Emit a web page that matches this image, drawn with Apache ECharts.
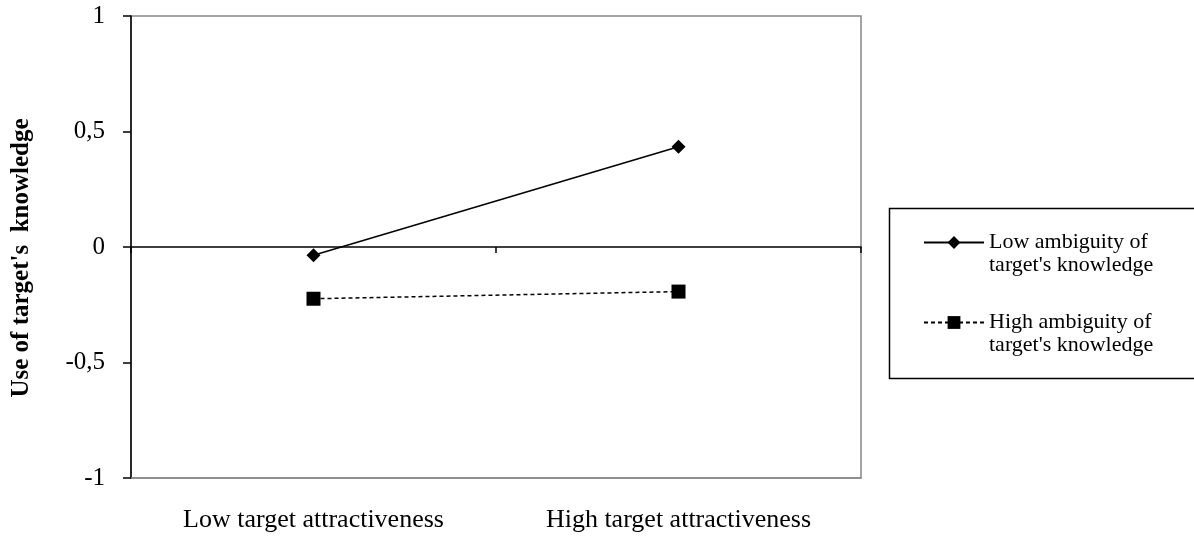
<!DOCTYPE html>
<html>
<head>
<meta charset="utf-8">
<script src="https://cdn.jsdelivr.net/npm/echarts@6/dist/echarts.min.js"></script>
<style>html,body{margin:0;padding:0;background:#fff}#c{width:1194px;height:538px}</style>
</head>
<body>
<div id="c"></div>
<script>
const categories = ['Low target attractiveness', 'High target attractiveness'];
const seriesNames = ["Low ambiguity of\ntarget's knowledge", "High ambiguity of\ntarget's knowledge"];
const lowAmbiguity = [-0.036, 0.434];
const highAmbiguity = [-0.224, -0.193];
const yTicks = { min: -1, max: 1, interval: 0.5 };

const FONT = '"Liberation Serif", "Times New Roman", serif';
const chart = echarts.init(document.getElementById('c'));
chart.setOption({
  backgroundColor: '#fff',
  animation: false,
  grid: { left: 131, right: 333, top: 16, bottom: 60, show: true, borderColor: '#888', borderWidth: 1.5, backgroundColor: 'transparent' },
  legend: {
    orient: 'vertical', left: 918, top: 203,
    itemWidth: 60, itemHeight: 16, itemGap: 11,
    data: seriesNames,
    formatter: name => '\n' + name,
    textStyle: { fontFamily: FONT, fontSize: 22, lineHeight: 23, color: '#000' }
  },
  graphic: [{
    type: 'rect', left: 887, top: 206, z: 10,
    shape: { width: 330, height: 170 },
    style: { fill: 'none', stroke: '#000', lineWidth: 1.5 }
  }],
  xAxis: [{
    type: 'category', data: categories, boundaryGap: true,
    axisLine: { onZero: true, lineStyle: { color: '#000', width: 1.5 } },
    axisTick: { show: true, length: 6, lineStyle: { color: '#000', width: 1.5 } },
    axisLabel: { show: false }, splitLine: { show: false }
  }, {
    type: 'category', data: categories, boundaryGap: true, position: 'bottom',
    axisLine: { onZero: false, lineStyle: { color: '#888', width: 1.5 } },
    axisTick: { show: false },
    axisLabel: { fontFamily: FONT, fontSize: 26, color: '#000', margin: 29 },
    splitLine: { show: false }
  }],
  yAxis: {
    type: 'value', min: yTicks.min, max: yTicks.max, interval: yTicks.interval,
    name: "Use of target's  knowledge", nameLocation: 'middle', nameGap: 97,
    nameTextStyle: { fontFamily: FONT, fontSize: 25, fontWeight: 'bold', color: '#000', padding: [0, 22, 0, 0] },
    axisLine: { show: true, lineStyle: { color: '#000', width: 1.5 } },
    axisTick: { show: true, length: 8, lineStyle: { color: '#000', width: 1.5 } },
    axisLabel: { fontFamily: FONT, fontSize: 25, color: '#000', margin: 26,
      formatter: v => String(v).replace('.', ',') },
    splitLine: { show: false }
  },
  series: [{
    name: seriesNames[0], type: 'line', data: lowAmbiguity, xAxisIndex: 0,
    symbol: 'diamond', symbolSize: 14,
    lineStyle: { color: '#000', width: 1.5, type: 'solid' },
    itemStyle: { color: '#000' }
  }, {
    name: seriesNames[1], type: 'line', data: highAmbiguity, xAxisIndex: 0,
    symbol: 'rect', symbolSize: 14,
    lineStyle: { color: '#000', width: 1.5, type: [4, 3] },
    itemStyle: { color: '#000' }
  }]
});
</script>
</body>
</html>
